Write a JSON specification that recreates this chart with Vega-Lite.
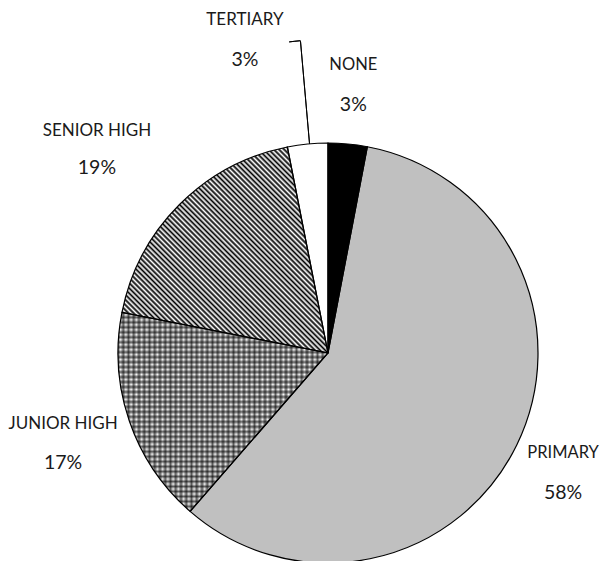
{
  "$schema": "https://vega.github.io/schema/vega-lite/v6.json",
  "width": 548,
  "height": 416,
  "padding": {"left": 54, "top": 145, "right": 0, "bottom": 0},
  "autosize": {"type": "none"},
  "background": "white",
  "config": {"view": {"stroke": null}, "text": {"font": "Lato", "fontSize": 19.5, "fill": "#1a1a1a"}},
  "data": {"values": [
    {"category": "None", "name": "NONE", "value": 3.0, "pct": "3%", "order": 1},
    {"category": "Primary", "name": "PRIMARY", "value": 58.4, "pct": "58%", "order": 2},
    {"category": "Junior High", "name": "JUNIOR HIGH", "value": 16.7, "pct": "17%", "order": 3},
    {"category": "Senior High", "name": "SENIOR HIGH", "value": 18.8, "pct": "19%", "order": 4},
    {"category": "Tertiary", "name": "TERTIARY", "value": 3.1, "pct": "3%", "order": 5}
  ]},
  "transform": [{"stack": "value", "groupby": [], "sort": [{"field": "order", "order": "ascending"}], "as": ["v0", "v1"]}],
  "layer": [
    {
      "mark": {"type": "arc", "radius": 210},
      "encoding": {
        "theta": {"field": "v0", "type": "quantitative", "stack": null, "scale": {"domain": [0, 100]}},
        "theta2": {"field": "v1"},
        "color": {"field": "category", "type": "nominal", "legend": null,
          "scale": {"domain": ["None", "Primary", "Junior High", "Senior High", "Tertiary"], "range": ["#000000", "#c0c0c0", "#ffffff", "#ffffff", "#ffffff"]}}
      }
    },
    {
      "transform": [{"filter": "datum.category === 'Senior High'"}],
      "mark": {"type": "arc", "radius": 210, "fill": {"gradient": "linear", "x1": 0, "y1": 1, "x2": 1, "y2": 0, "stops": [
        {"offset":0,"color":"#000"},{"offset":0.00625,"color":"#fff"},{"offset":0.0125,"color":"#000"},{"offset":0.01875,"color":"#fff"},{"offset":0.025,"color":"#000"},{"offset":0.03125,"color":"#fff"},{"offset":0.0375,"color":"#000"},{"offset":0.04375,"color":"#fff"},
        {"offset":0.05,"color":"#000"},{"offset":0.05625,"color":"#fff"},{"offset":0.0625,"color":"#000"},{"offset":0.06875,"color":"#fff"},{"offset":0.075,"color":"#000"},{"offset":0.08125,"color":"#fff"},{"offset":0.0875,"color":"#000"},{"offset":0.09375,"color":"#fff"},
        {"offset":0.1,"color":"#000"},{"offset":0.10625,"color":"#fff"},{"offset":0.1125,"color":"#000"},{"offset":0.11875,"color":"#fff"},{"offset":0.125,"color":"#000"},{"offset":0.13125,"color":"#fff"},{"offset":0.1375,"color":"#000"},{"offset":0.14375,"color":"#fff"},
        {"offset":0.15,"color":"#000"},{"offset":0.15625,"color":"#fff"},{"offset":0.1625,"color":"#000"},{"offset":0.16875,"color":"#fff"},{"offset":0.175,"color":"#000"},{"offset":0.18125,"color":"#fff"},{"offset":0.1875,"color":"#000"},{"offset":0.19375,"color":"#fff"},
        {"offset":0.2,"color":"#000"},{"offset":0.20625,"color":"#fff"},{"offset":0.2125,"color":"#000"},{"offset":0.21875,"color":"#fff"},{"offset":0.225,"color":"#000"},{"offset":0.23125,"color":"#fff"},{"offset":0.2375,"color":"#000"},{"offset":0.24375,"color":"#fff"},
        {"offset":0.25,"color":"#000"},{"offset":0.25625,"color":"#fff"},{"offset":0.2625,"color":"#000"},{"offset":0.26875,"color":"#fff"},{"offset":0.275,"color":"#000"},{"offset":0.28125,"color":"#fff"},{"offset":0.2875,"color":"#000"},{"offset":0.29375,"color":"#fff"},
        {"offset":0.3,"color":"#000"},{"offset":0.30625,"color":"#fff"},{"offset":0.3125,"color":"#000"},{"offset":0.31875,"color":"#fff"},{"offset":0.325,"color":"#000"},{"offset":0.33125,"color":"#fff"},{"offset":0.3375,"color":"#000"},{"offset":0.34375,"color":"#fff"},
        {"offset":0.35,"color":"#000"},{"offset":0.35625,"color":"#fff"},{"offset":0.3625,"color":"#000"},{"offset":0.36875,"color":"#fff"},{"offset":0.375,"color":"#000"},{"offset":0.38125,"color":"#fff"},{"offset":0.3875,"color":"#000"},{"offset":0.39375,"color":"#fff"},
        {"offset":0.4,"color":"#000"},{"offset":0.40625,"color":"#fff"},{"offset":0.4125,"color":"#000"},{"offset":0.41875,"color":"#fff"},{"offset":0.425,"color":"#000"},{"offset":0.43125,"color":"#fff"},{"offset":0.4375,"color":"#000"},{"offset":0.44375,"color":"#fff"},
        {"offset":0.45,"color":"#000"},{"offset":0.45625,"color":"#fff"},{"offset":0.4625,"color":"#000"},{"offset":0.46875,"color":"#fff"},{"offset":0.475,"color":"#000"},{"offset":0.48125,"color":"#fff"},{"offset":0.4875,"color":"#000"},{"offset":0.49375,"color":"#fff"},
        {"offset":0.5,"color":"#000"},{"offset":0.50625,"color":"#fff"},{"offset":0.5125,"color":"#000"},{"offset":0.51875,"color":"#fff"},{"offset":0.525,"color":"#000"},{"offset":0.53125,"color":"#fff"},{"offset":0.5375,"color":"#000"},{"offset":0.54375,"color":"#fff"},
        {"offset":0.55,"color":"#000"},{"offset":0.55625,"color":"#fff"},{"offset":0.5625,"color":"#000"},{"offset":0.56875,"color":"#fff"},{"offset":0.575,"color":"#000"},{"offset":0.58125,"color":"#fff"},{"offset":0.5875,"color":"#000"},{"offset":0.59375,"color":"#fff"},
        {"offset":0.6,"color":"#000"},{"offset":0.60625,"color":"#fff"},{"offset":0.6125,"color":"#000"},{"offset":0.61875,"color":"#fff"},{"offset":0.625,"color":"#000"},{"offset":0.63125,"color":"#fff"},{"offset":0.6375,"color":"#000"},{"offset":0.64375,"color":"#fff"},
        {"offset":0.65,"color":"#000"},{"offset":0.65625,"color":"#fff"},{"offset":0.6625,"color":"#000"},{"offset":0.66875,"color":"#fff"},{"offset":0.675,"color":"#000"},{"offset":0.68125,"color":"#fff"},{"offset":0.6875,"color":"#000"},{"offset":0.69375,"color":"#fff"},
        {"offset":0.7,"color":"#000"},{"offset":0.70625,"color":"#fff"},{"offset":0.7125,"color":"#000"},{"offset":0.71875,"color":"#fff"},{"offset":0.725,"color":"#000"},{"offset":0.73125,"color":"#fff"},{"offset":0.7375,"color":"#000"},{"offset":0.74375,"color":"#fff"},
        {"offset":0.75,"color":"#000"},{"offset":0.75625,"color":"#fff"},{"offset":0.7625,"color":"#000"},{"offset":0.76875,"color":"#fff"},{"offset":0.775,"color":"#000"},{"offset":0.78125,"color":"#fff"},{"offset":0.7875,"color":"#000"},{"offset":0.79375,"color":"#fff"},
        {"offset":0.8,"color":"#000"},{"offset":0.80625,"color":"#fff"},{"offset":0.8125,"color":"#000"},{"offset":0.81875,"color":"#fff"},{"offset":0.825,"color":"#000"},{"offset":0.83125,"color":"#fff"},{"offset":0.8375,"color":"#000"},{"offset":0.84375,"color":"#fff"},
        {"offset":0.85,"color":"#000"},{"offset":0.85625,"color":"#fff"},{"offset":0.8625,"color":"#000"},{"offset":0.86875,"color":"#fff"},{"offset":0.875,"color":"#000"},{"offset":0.88125,"color":"#fff"},{"offset":0.8875,"color":"#000"},{"offset":0.89375,"color":"#fff"},
        {"offset":0.9,"color":"#000"},{"offset":0.90625,"color":"#fff"},{"offset":0.9125,"color":"#000"},{"offset":0.91875,"color":"#fff"},{"offset":0.925,"color":"#000"},{"offset":0.93125,"color":"#fff"},{"offset":0.9375,"color":"#000"},{"offset":0.94375,"color":"#fff"},
        {"offset":0.95,"color":"#000"},{"offset":0.95625,"color":"#fff"},{"offset":0.9625,"color":"#000"},{"offset":0.96875,"color":"#fff"},{"offset":0.975,"color":"#000"},{"offset":0.98125,"color":"#fff"},{"offset":0.9875,"color":"#000"},{"offset":0.99375,"color":"#fff"},
        {"offset":1,"color":"#000"}
      ]}},
      "encoding": {
        "theta": {"field": "v0", "type": "quantitative", "stack": null, "scale": {"domain": [0, 100]}},
        "theta2": {"field": "v1"}
      }
    },
    {
      "transform": [{"filter": "datum.category === 'Junior High'"}],
      "mark": {"type": "arc", "radius": 210, "fill": {"gradient": "linear", "x1": 0, "y1": 0, "x2": 0, "y2": 1, "stops": [
        {"offset":0,"color":"#0009"},{"offset":0.0125,"color":"#0000"},{"offset":0.025,"color":"#0009"},{"offset":0.0375,"color":"#0000"},{"offset":0.05,"color":"#0009"},{"offset":0.0625,"color":"#0000"},{"offset":0.075,"color":"#0009"},{"offset":0.0875,"color":"#0000"},
        {"offset":0.1,"color":"#0009"},{"offset":0.1125,"color":"#0000"},{"offset":0.125,"color":"#0009"},{"offset":0.1375,"color":"#0000"},{"offset":0.15,"color":"#0009"},{"offset":0.1625,"color":"#0000"},{"offset":0.175,"color":"#0009"},{"offset":0.1875,"color":"#0000"},
        {"offset":0.2,"color":"#0009"},{"offset":0.2125,"color":"#0000"},{"offset":0.225,"color":"#0009"},{"offset":0.2375,"color":"#0000"},{"offset":0.25,"color":"#0009"},{"offset":0.2625,"color":"#0000"},{"offset":0.275,"color":"#0009"},{"offset":0.2875,"color":"#0000"},
        {"offset":0.3,"color":"#0009"},{"offset":0.3125,"color":"#0000"},{"offset":0.325,"color":"#0009"},{"offset":0.3375,"color":"#0000"},{"offset":0.35,"color":"#0009"},{"offset":0.3625,"color":"#0000"},{"offset":0.375,"color":"#0009"},{"offset":0.3875,"color":"#0000"},
        {"offset":0.4,"color":"#0009"},{"offset":0.4125,"color":"#0000"},{"offset":0.425,"color":"#0009"},{"offset":0.4375,"color":"#0000"},{"offset":0.45,"color":"#0009"},{"offset":0.4625,"color":"#0000"},{"offset":0.475,"color":"#0009"},{"offset":0.4875,"color":"#0000"},
        {"offset":0.5,"color":"#0009"},{"offset":0.5125,"color":"#0000"},{"offset":0.525,"color":"#0009"},{"offset":0.5375,"color":"#0000"},{"offset":0.55,"color":"#0009"},{"offset":0.5625,"color":"#0000"},{"offset":0.575,"color":"#0009"},{"offset":0.5875,"color":"#0000"},
        {"offset":0.6,"color":"#0009"},{"offset":0.6125,"color":"#0000"},{"offset":0.625,"color":"#0009"},{"offset":0.6375,"color":"#0000"},{"offset":0.65,"color":"#0009"},{"offset":0.6625,"color":"#0000"},{"offset":0.675,"color":"#0009"},{"offset":0.6875,"color":"#0000"},
        {"offset":0.7,"color":"#0009"},{"offset":0.7125,"color":"#0000"},{"offset":0.725,"color":"#0009"},{"offset":0.7375,"color":"#0000"},{"offset":0.75,"color":"#0009"},{"offset":0.7625,"color":"#0000"},{"offset":0.775,"color":"#0009"},{"offset":0.7875,"color":"#0000"},
        {"offset":0.8,"color":"#0009"},{"offset":0.8125,"color":"#0000"},{"offset":0.825,"color":"#0009"},{"offset":0.8375,"color":"#0000"},{"offset":0.85,"color":"#0009"},{"offset":0.8625,"color":"#0000"},{"offset":0.875,"color":"#0009"},{"offset":0.8875,"color":"#0000"},
        {"offset":0.9,"color":"#0009"},{"offset":0.9125,"color":"#0000"},{"offset":0.925,"color":"#0009"},{"offset":0.9375,"color":"#0000"},{"offset":0.95,"color":"#0009"},{"offset":0.9625,"color":"#0000"},{"offset":0.975,"color":"#0009"},{"offset":0.9875,"color":"#0000"},
        {"offset":1,"color":"#0009"}
      ]}},
      "encoding": {
        "theta": {"field": "v0", "type": "quantitative", "stack": null, "scale": {"domain": [0, 100]}},
        "theta2": {"field": "v1"}
      }
    },
    {
      "transform": [{"filter": "datum.category === 'Junior High'"}],
      "mark": {"type": "arc", "radius": 210, "fill": {"gradient": "linear", "x1": 0, "y1": 0, "x2": 1, "y2": 0, "stops": [
        {"offset":0,"color":"#0009"},{"offset":0.0125,"color":"#0000"},{"offset":0.025,"color":"#0009"},{"offset":0.0375,"color":"#0000"},{"offset":0.05,"color":"#0009"},{"offset":0.0625,"color":"#0000"},{"offset":0.075,"color":"#0009"},{"offset":0.0875,"color":"#0000"},
        {"offset":0.1,"color":"#0009"},{"offset":0.1125,"color":"#0000"},{"offset":0.125,"color":"#0009"},{"offset":0.1375,"color":"#0000"},{"offset":0.15,"color":"#0009"},{"offset":0.1625,"color":"#0000"},{"offset":0.175,"color":"#0009"},{"offset":0.1875,"color":"#0000"},
        {"offset":0.2,"color":"#0009"},{"offset":0.2125,"color":"#0000"},{"offset":0.225,"color":"#0009"},{"offset":0.2375,"color":"#0000"},{"offset":0.25,"color":"#0009"},{"offset":0.2625,"color":"#0000"},{"offset":0.275,"color":"#0009"},{"offset":0.2875,"color":"#0000"},
        {"offset":0.3,"color":"#0009"},{"offset":0.3125,"color":"#0000"},{"offset":0.325,"color":"#0009"},{"offset":0.3375,"color":"#0000"},{"offset":0.35,"color":"#0009"},{"offset":0.3625,"color":"#0000"},{"offset":0.375,"color":"#0009"},{"offset":0.3875,"color":"#0000"},
        {"offset":0.4,"color":"#0009"},{"offset":0.4125,"color":"#0000"},{"offset":0.425,"color":"#0009"},{"offset":0.4375,"color":"#0000"},{"offset":0.45,"color":"#0009"},{"offset":0.4625,"color":"#0000"},{"offset":0.475,"color":"#0009"},{"offset":0.4875,"color":"#0000"},
        {"offset":0.5,"color":"#0009"},{"offset":0.5125,"color":"#0000"},{"offset":0.525,"color":"#0009"},{"offset":0.5375,"color":"#0000"},{"offset":0.55,"color":"#0009"},{"offset":0.5625,"color":"#0000"},{"offset":0.575,"color":"#0009"},{"offset":0.5875,"color":"#0000"},
        {"offset":0.6,"color":"#0009"},{"offset":0.6125,"color":"#0000"},{"offset":0.625,"color":"#0009"},{"offset":0.6375,"color":"#0000"},{"offset":0.65,"color":"#0009"},{"offset":0.6625,"color":"#0000"},{"offset":0.675,"color":"#0009"},{"offset":0.6875,"color":"#0000"},
        {"offset":0.7,"color":"#0009"},{"offset":0.7125,"color":"#0000"},{"offset":0.725,"color":"#0009"},{"offset":0.7375,"color":"#0000"},{"offset":0.75,"color":"#0009"},{"offset":0.7625,"color":"#0000"},{"offset":0.775,"color":"#0009"},{"offset":0.7875,"color":"#0000"},
        {"offset":0.8,"color":"#0009"},{"offset":0.8125,"color":"#0000"},{"offset":0.825,"color":"#0009"},{"offset":0.8375,"color":"#0000"},{"offset":0.85,"color":"#0009"},{"offset":0.8625,"color":"#0000"},{"offset":0.875,"color":"#0009"},{"offset":0.8875,"color":"#0000"},
        {"offset":0.9,"color":"#0009"},{"offset":0.9125,"color":"#0000"},{"offset":0.925,"color":"#0009"},{"offset":0.9375,"color":"#0000"},{"offset":0.95,"color":"#0009"},{"offset":0.9625,"color":"#0000"},{"offset":0.975,"color":"#0009"},{"offset":0.9875,"color":"#0000"},
        {"offset":1,"color":"#0009"}
      ]}},
      "encoding": {
        "theta": {"field": "v0", "type": "quantitative", "stack": null, "scale": {"domain": [0, 100]}},
        "theta2": {"field": "v1"}
      }
    },
    {
      "mark": {"type": "arc", "radius": 210, "filled": false, "stroke": "#000000", "strokeWidth": 1.2},
      "encoding": {
        "theta": {"field": "v0", "type": "quantitative", "stack": null, "scale": {"domain": [0, 100]}},
        "theta2": {"field": "v1"}
      }
    },
    {
      "transform": [{"filter": "datum.category === 'Tertiary'"}],
      "mark": {"type": "arc", "radius": 313, "radius2": 210, "thetaOffset": -0.088, "theta2Offset": -0.088, "filled": false, "stroke": "#000000", "strokeWidth": 1},
      "encoding": {
        "theta": {"field": "v1", "type": "quantitative", "stack": null, "scale": {"domain": [0, 100]}},
        "theta2": {"field": "v1"}
      }
    },
    {
      "transform": [{"filter": "datum.category === 'Tertiary'"}],
      "mark": {"type": "arc", "radius": 313.5, "radius2": 313.5, "thetaOffset": -0.124, "theta2Offset": -0.088, "filled": false, "stroke": "#000000", "strokeWidth": 1},
      "encoding": {
        "theta": {"field": "v1", "type": "quantitative", "stack": null, "scale": {"domain": [0, 100]}},
        "theta2": {"field": "v1"}
      }
    },
    {
      "mark": {"type": "text", "radius": 269, "dy": -20, "fontSize": 16.5},
      "encoding": {
        "theta": {"field": "value", "type": "quantitative", "stack": true, "scale": {"domain": [0, 100]}},
        "order": {"field": "order", "type": "quantitative"},
        "text": {"condition": {"test": "datum.category === 'None'", "field": "name", "type": "nominal"}, "value": ""}
      }
    },
    {
      "mark": {"type": "text", "radius": 269, "dy": 20},
      "encoding": {
        "theta": {"field": "value", "type": "quantitative", "stack": true, "scale": {"domain": [0, 100]}},
        "order": {"field": "order", "type": "quantitative"},
        "text": {"condition": {"test": "datum.category === 'None'", "field": "pct", "type": "nominal"}, "value": ""}
      }
    },
    {
      "mark": {"type": "text", "radius": 264, "thetaOffset": 0.02, "dy": -20, "fontSize": 16.5},
      "encoding": {
        "theta": {"field": "value", "type": "quantitative", "stack": true, "scale": {"domain": [0, 100]}},
        "order": {"field": "order", "type": "quantitative"},
        "text": {"condition": {"test": "datum.category === 'Primary'", "field": "name", "type": "nominal"}, "value": ""}
      }
    },
    {
      "mark": {"type": "text", "radius": 264, "thetaOffset": 0.02, "dy": 20},
      "encoding": {
        "theta": {"field": "value", "type": "quantitative", "stack": true, "scale": {"domain": [0, 100]}},
        "order": {"field": "order", "type": "quantitative"},
        "text": {"condition": {"test": "datum.category === 'Primary'", "field": "pct", "type": "nominal"}, "value": ""}
      }
    },
    {
      "mark": {"type": "text", "radius": 280, "dy": -20, "fontSize": 17},
      "encoding": {
        "theta": {"field": "value", "type": "quantitative", "stack": true, "scale": {"domain": [0, 100]}},
        "order": {"field": "order", "type": "quantitative"},
        "text": {"condition": {"test": "datum.category === 'Junior High'", "field": "name", "type": "nominal"}, "value": ""}
      }
    },
    {
      "mark": {"type": "text", "radius": 280, "dy": 19},
      "encoding": {
        "theta": {"field": "value", "type": "quantitative", "stack": true, "scale": {"domain": [0, 100]}},
        "order": {"field": "order", "type": "quantitative"},
        "text": {"condition": {"test": "datum.category === 'Junior High'", "field": "pct", "type": "nominal"}, "value": ""}
      }
    },
    {
      "mark": {"type": "text", "radius": 308, "thetaOffset": -0.063, "dy": -18, "fontSize": 17},
      "encoding": {
        "theta": {"field": "value", "type": "quantitative", "stack": true, "scale": {"domain": [0, 100]}},
        "order": {"field": "order", "type": "quantitative"},
        "text": {"condition": {"test": "datum.category === 'Senior High'", "field": "name", "type": "nominal"}, "value": ""}
      }
    },
    {
      "mark": {"type": "text", "radius": 308, "thetaOffset": -0.063, "dy": 19},
      "encoding": {
        "theta": {"field": "value", "type": "quantitative", "stack": true, "scale": {"domain": [0, 100]}},
        "order": {"field": "order", "type": "quantitative"},
        "text": {"condition": {"test": "datum.category === 'Senior High'", "field": "pct", "type": "nominal"}, "value": ""}
      }
    },
    {
      "mark": {"type": "text", "radius": 324, "thetaOffset": -0.162, "dy": -20, "fontSize": 17},
      "encoding": {
        "theta": {"field": "value", "type": "quantitative", "stack": true, "scale": {"domain": [0, 100]}},
        "order": {"field": "order", "type": "quantitative"},
        "text": {"condition": {"test": "datum.category === 'Tertiary'", "field": "name", "type": "nominal"}, "value": ""}
      }
    },
    {
      "mark": {"type": "text", "radius": 324, "thetaOffset": -0.162, "dy": 20},
      "encoding": {
        "theta": {"field": "value", "type": "quantitative", "stack": true, "scale": {"domain": [0, 100]}},
        "order": {"field": "order", "type": "quantitative"},
        "text": {"condition": {"test": "datum.category === 'Tertiary'", "field": "pct", "type": "nominal"}, "value": ""}
      }
    }
  ]
}
